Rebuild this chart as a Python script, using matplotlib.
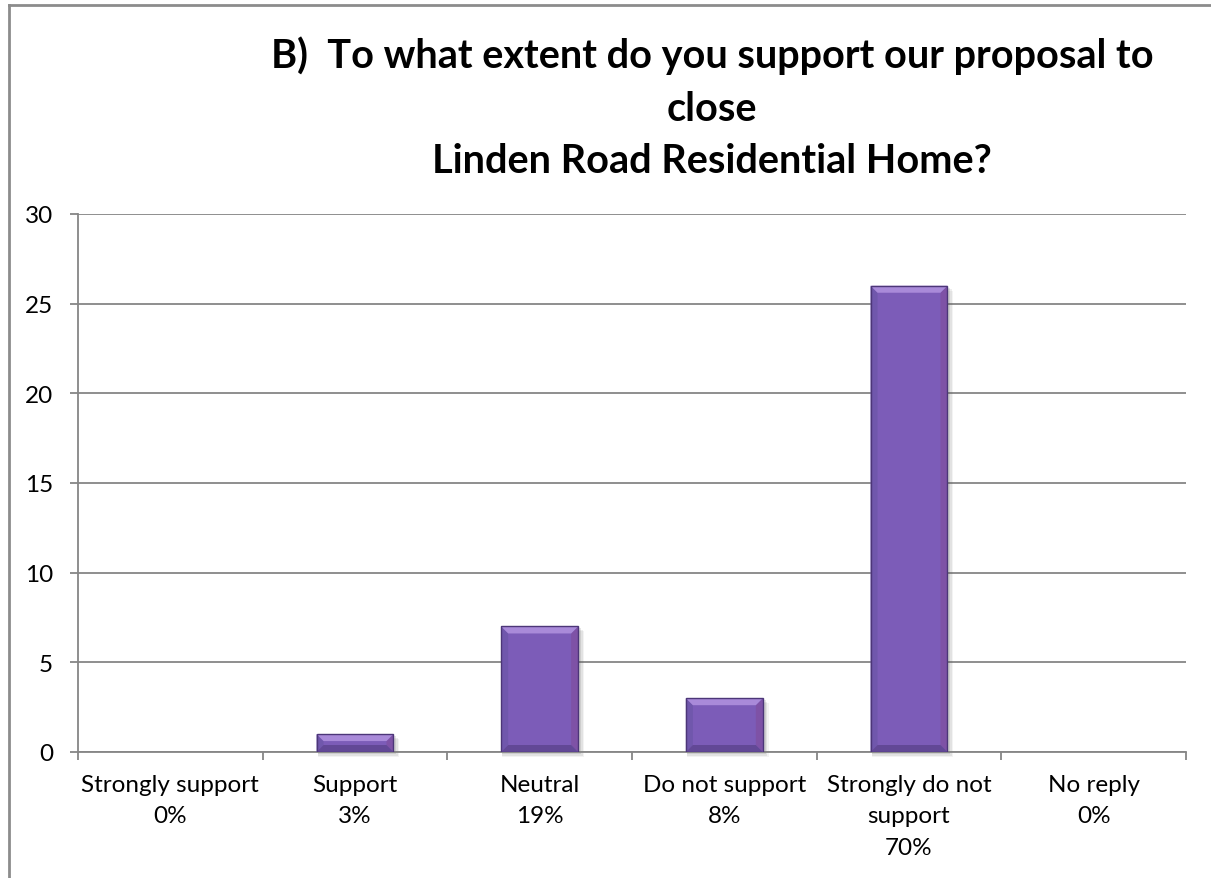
import matplotlib
matplotlib.use("Agg")
import matplotlib.pyplot as plt
from matplotlib.patches import Polygon, Rectangle
from matplotlib.ticker import FixedLocator, MultipleLocator

plt.rcParams['font.family'] = ['Lato', 'DejaVu Sans']

# Survey responses
categories = ["Strongly support", "Support", "Neutral", "Do not support",
              "Strongly do not\nsupport", "No reply"]
counts = [0, 1, 7, 3, 26, 0]
title_lines = ["B)  To what extent do you support our proposal to",
               "close",
               "Linden Road Residential Home?"]
y_ticks = [0, 5, 10, 15, 20, 25, 30]

total = sum(counts)
percents = [round(100 * c / total) for c in counts]
tick_labels = [f"{c}\n{p}%" for c, p in zip(categories, percents)]

W, H, DPI = 1211, 879, 100
fig = plt.figure(figsize=(W / DPI, H / DPI), dpi=DPI)
fig.patch.set_facecolor("white")

# outer chart frame (left and top edges visible)
frame_col = "#8c8c8c"
fig.add_artist(plt.Line2D([8.5 / W, 8.5 / W], [0, 1 - 6 / H], transform=fig.transFigure,
                          color=frame_col, lw=2.0))
fig.add_artist(plt.Line2D([8.5 / W, 1], [1 - 6 / H, 1 - 6 / H], transform=fig.transFigure,
                          color=frame_col, lw=2.0))

left, right, top, bottom = 78, 1186, 215, 753
ax = fig.add_axes([left / W, 1 - bottom / H, (right - left) / W, (bottom - top) / H])

n = len(categories)
ax.set_xlim(0, n)
ax.set_ylim(y_ticks[0], y_ticks[-1])

grid_col = "#868686"
for s in ("top", "right"):
    ax.spines[s].set_visible(False)
for s in ("left", "bottom"):
    ax.spines[s].set_color(grid_col)
    ax.spines[s].set_linewidth(1.3)

ax.yaxis.set_major_locator(FixedLocator(y_ticks))
ax.yaxis.grid(True, color=grid_col, lw=1.3)
ax.set_axisbelow(True)
ax.tick_params(axis="y", direction="out", length=6, width=1.3, color=grid_col,
               pad=12, labelsize=17.5, labelcolor="black")

centers = [i + 0.5 for i in range(n)]
ax.set_xticks(centers)
ax.set_xticklabels(tick_labels, fontsize=17.5, linespacing=1.6)
ax.xaxis.set_minor_locator(MultipleLocator(1))
ax.tick_params(axis="x", which="major", length=0, pad=16)
ax.tick_params(axis="x", which="minor", direction="out", length=6, width=1.3,
               color=grid_col)

# beveled purple bars
bar_w = 1 / 2.4
px_x = (right - left) / n          # pixels per category
px_y = (bottom - top) / (y_ticks[-1] - y_ticks[0])  # pixels per unit
bx = 7 / px_x
by = 7 / px_y

face = "#7c5cb8"
for c, v in zip(centers, counts):
    if v <= 0:
        continue
    x0, x1 = c - bar_w / 2, c + bar_w / 2
    y0, y1 = 0, v
    # soft shadow
    for k, a in ((5, 0.07), (3.5, 0.1), (2, 0.15)):
        ax.add_patch(Rectangle((x0 + 1 / px_x, y0 - k / px_y), bar_w + k / px_x, v,
                               facecolor="#555555", alpha=a, lw=0, zorder=2,
                               clip_on=False))
    ax.add_patch(Rectangle((x0, y0), bar_w, v, facecolor=face, edgecolor="none",
                           zorder=3))
    byy = min(by, v / 2.5)
    # left, right, bottom, top bevel faces
    ax.add_patch(Polygon([(x0, y1), (x0 + bx, y1 - byy), (x0 + bx, y0 + byy), (x0, y0)],
                         closed=True, facecolor="#7057ac", lw=0, zorder=4))
    ax.add_patch(Polygon([(x1, y1), (x1 - bx, y1 - byy), (x1 - bx, y0 + byy), (x1, y0)],
                         closed=True, facecolor="#7e52a6", lw=0, zorder=4))
    ax.add_patch(Polygon([(x0, y0), (x0 + bx, y0 + byy), (x1 - bx, y0 + byy), (x1, y0)],
                         closed=True, facecolor="#624896", lw=0, zorder=4))
    ax.add_patch(Polygon([(x0, y1), (x0 + bx, y1 - byy), (x1 - bx, y1 - byy), (x1, y1)],
                         closed=True, facecolor="#a98ad9", lw=0, zorder=4))
    ax.add_patch(Rectangle((x0, y0), bar_w, v, facecolor="none", edgecolor="#4c3678",
                           lw=1.0, zorder=5))

# title lines
baselines = [68, 121, 173]
for line, b in zip(title_lines, baselines):
    fig.text(712 / W, 1 - b / H, line, ha="center", va="baseline",
             fontsize=28.5, fontweight="bold", color="black")

fig.savefig("out.png", dpi=DPI, facecolor="white")
